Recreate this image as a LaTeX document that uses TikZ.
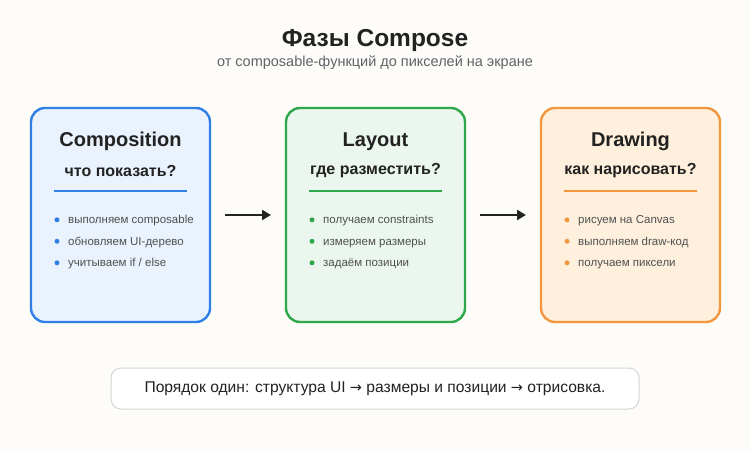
\documentclass[tikz,border=0pt]{standalone}
\usepackage{fontspec}
\setmainfont{Liberation Sans}
\newfontfamily\symf{DejaVu Sans}
\usetikzlibrary{arrows.meta}
\definecolor{bg}{HTML}{FDFCF8}
\definecolor{ink}{HTML}{222222}
\definecolor{sub}{HTML}{5F6368}
\definecolor{txt}{HTML}{505050}
\definecolor{blueB}{HTML}{2F7FE6}
\definecolor{blueF}{HTML}{EAF3FD}
\definecolor{greenB}{HTML}{2FA84C}
\definecolor{greenF}{HTML}{EBF6EE}
\definecolor{orangeB}{HTML}{F29640}
\definecolor{orangeF}{HTML}{FEF0DC}
\definecolor{noteB}{HTML}{D4D6D8}
\newcommand{\arr}{{\symf\fontsize{14.5}{16}\selectfont →}}
\tikzset{
  phase/.style={draw=#1B, fill=#1F, line width=2.4pt, rounded corners=14pt, minimum width=179pt, minimum height=214pt, inner sep=0pt},
  head/.style={font=\fontsize{20}{24}\selectfont\bfseries, text=ink, inner sep=0pt},
  subhead/.style={font=\fontsize{16}{19}\selectfont\bfseries, text=ink, inner sep=0pt},
  item/.style={font=\fontsize{11.5}{14}\selectfont, text=txt, anchor=base west, inner sep=0pt},
  dotm/.style={circle, fill=#1, minimum size=5pt, inner sep=0pt},
  sepbar/.style={rectangle, fill=#1, draw=none, minimum width=133pt, minimum height=1.8pt, inner sep=0pt},
  flow/.style={draw=ink, line width=2pt, -{Triangle[length=9pt,width=10pt]}},
}
\begin{document}
\begin{tikzpicture}[x=1pt,y=-1pt]
\fill[bg] (0,0) rectangle (750,450);
\useasboundingbox (0,0) rectangle (750,450);
\node[font=\fontsize{24.5}{28}\selectfont\bfseries, text=ink] (title) at (375,40) {Фазы Compose};
\node[font=\fontsize{14.5}{17}\selectfont, text=sub] (subtitle) at (375,63) {от composable-функций до пикселей на экране};

% boxes
\node[phase=blue] (b1) at (120.5,215) {};
\node[phase=green] (b2) at (375.5,215) {};
\node[phase=orange] (b3) at (630.5,215) {};

\foreach \bx/\colr/\h/\s/\ia/\ib/\ic in {
  b1/blueB/Composition/что показать?/выполняем composable/обновляем UI-дерево/{учитываем if / else},
  b2/greenB/Layout/где разместить?/получаем constraints/измеряем размеры/задаём позиции,
  b3/orangeB/Drawing/как нарисовать?/рисуем на Canvas/выполняем draw-код/получаем пиксели}{
  \node[head] (\bx h) at ([yshift=-35pt]\bx.north) {\h};
  \node[subhead] (\bx s) at ([yshift=-64pt]\bx.north) {\s};
  \node[sepbar=\colr] (\bx line) at ([yshift=-84.5pt]\bx.north) {};
  \node[dotm=\colr] (\bx d1) at ([xshift=-63.5pt,yshift=-113pt]\bx.north) {};
  \node[dotm=\colr] (\bx d2) at ([xshift=-63.5pt,yshift=-134.5pt]\bx.north) {};
  \node[dotm=\colr] (\bx d3) at ([xshift=-63.5pt,yshift=-156pt]\bx.north) {};
  \node[item] (\bx t1) at ([xshift=11pt,yshift=-4.1pt]\bx d1.center) {\ia};
  \node[item] (\bx t2) at ([xshift=11pt,yshift=-4.1pt]\bx d2.center) {\ib};
  \node[item] (\bx t3) at ([xshift=11pt,yshift=-4.1pt]\bx d3.center) {\ic};
}

% arrows
\coordinate (a1s) at (225,215);
\coordinate (a1e) at (271,215);
\coordinate (a2s) at (480,215);
\coordinate (a2e) at (526,215);
\draw[flow] (a1s) -- (a1e);
\draw[flow] (a2s) -- (a2e);

% note
\node[draw=noteB, fill=white, line width=1pt, rounded corners=10pt, minimum width=528pt, minimum height=41pt, font=\fontsize{15.6}{18}\selectfont, text=ink] (note) at (375,388.5) {Порядок один: структура UI \arr{} размеры и позиции \arr{} отрисовка.};
\end{tikzpicture}
\end{document}
